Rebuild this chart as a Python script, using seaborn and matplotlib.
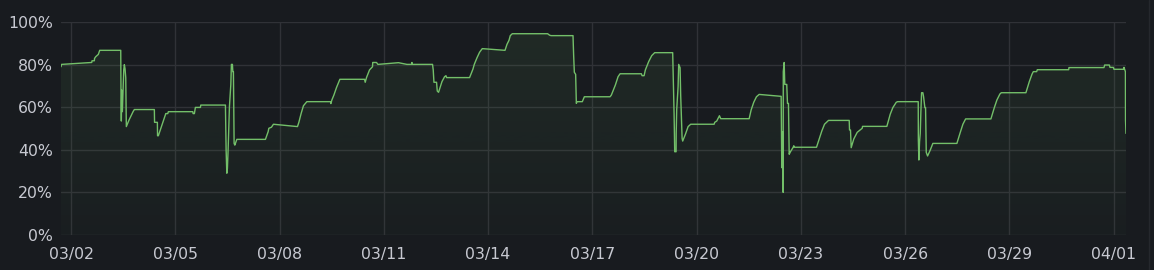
import numpy as np
import pandas as pd
import matplotlib
matplotlib.use("Agg")
import matplotlib.pyplot as plt
import matplotlib.dates as mdates
from matplotlib.lines import Line2D
from matplotlib.ticker import FuncFormatter
import seaborn as sns

# ---- data: days since 2024-03-02 00:00 and usage in percent ----
start_date = "2024-03-02"
days = [
    -0.288, -0.273, 0.596, 0.605, 0.671, 0.677, 0.711, 0.786, 0.826, 1.431,
    1.440, 1.448, 1.460, 1.477, 1.517, 1.535, 1.555, 1.575, 1.592, 1.670,
    1.785, 1.822, 2.398, 2.404, 2.485, 2.490, 2.513, 2.649, 2.727, 2.784,
    2.801, 3.504, 3.513, 3.550, 3.579, 3.723, 3.734, 4.443, 4.463, 4.483,
    4.500, 4.520, 4.540, 4.558, 4.598, 4.615, 4.644, 4.656, 4.673, 4.693,
    4.713, 4.771, 5.594, 5.672, 5.692, 5.767, 5.824, 6.516, 6.556, 6.622,
    6.688, 6.786, 7.466, 7.477, 7.506, 7.564, 7.638, 7.736, 8.445, 8.465,
    8.502, 8.589, 8.675, 8.681, 8.790, 8.830, 9.423, 9.665, 9.805, 9.809,
    9.813, 10.402, 10.422, 10.443, 10.518, 10.538, 10.575, 10.673, 10.748, 10.788,
    10.806, 11.468, 11.565, 11.603, 11.681, 11.756, 11.833, 12.487, 12.544, 12.602,
    12.639, 12.697, 13.713, 13.771, 13.811, 14.444, 14.462, 14.482, 14.520, 14.540,
    14.559, 14.712, 14.770, 15.510, 15.547, 15.662, 15.740, 15.798, 16.411, 16.431,
    16.489, 16.526, 16.621, 16.708, 16.794, 17.312, 17.332, 17.352, 17.370, 17.410,
    17.413, 17.427, 17.467, 17.485, 17.525, 17.542, 17.583, 17.600, 17.678, 17.756,
    17.830, 18.504, 18.521, 18.579, 18.657, 18.694, 19.512, 19.569, 19.644, 19.722,
    19.800, 20.433, 20.451, 20.471, 20.491, 20.494, 20.520, 20.537, 20.594, 20.615,
    20.643, 20.664, 20.701, 20.779, 20.796, 20.816, 21.450, 21.527, 21.602, 21.680,
    21.795, 22.391, 22.400, 22.428, 22.448, 22.523, 22.621, 22.765, 22.774, 23.474,
    23.571, 23.646, 23.744, 23.782, 24.377, 24.380, 24.395, 24.415, 24.435, 24.453,
    24.473, 24.510, 24.530, 24.568, 24.588, 24.608, 24.646, 24.723, 24.798, 25.489,
    25.587, 25.662, 25.740, 26.468, 26.566, 26.641, 26.727, 26.767, 27.475, 27.573,
    27.648, 27.688, 27.784, 27.803, 28.705, 28.714, 29.721, 29.741, 29.876, 29.894,
    29.991, 30.009, 30.280, 30.297, 30.338, 30.341, 30.355,
]
usage = [
    79.0, 80.1, 81.0, 81.8, 81.8, 82.9, 83.7, 84.8, 86.7, 86.7,
    61.8, 53.5, 68.0, 57.9, 77.5, 80.0, 78.0, 73.9, 50.9, 54.0,
    57.9, 58.9, 58.9, 52.9, 52.9, 46.6, 46.6, 53.2, 57.0, 57.0,
    57.9, 57.9, 57.0, 57.0, 59.9, 59.9, 61.0, 61.0, 39.9, 29.0,
    31.3, 39.9, 50.0, 60.2, 70.7, 80.1, 80.1, 76.7, 76.7, 43.0,
    42.2, 44.9, 44.9, 48.5, 50.1, 50.6, 52.0, 50.9, 52.9, 57.1,
    60.7, 62.6, 62.6, 61.7, 63.4, 65.7, 69.2, 73.1, 73.1, 71.7,
    73.9, 77.5, 79.0, 81.0, 81.0, 80.1, 80.9, 80.1, 80.1, 81.0,
    80.1, 80.1, 77.5, 71.7, 71.7, 67.6, 67.0, 72.0, 74.3, 74.8,
    73.9, 73.9, 77.9, 80.1, 83.2, 85.8, 87.5, 86.7, 89.5, 91.4,
    93.6, 94.5, 94.5, 93.8, 93.6, 93.6, 84.5, 76.4, 75.4, 61.8,
    62.6, 62.6, 64.9, 64.9, 65.7, 70.4, 74.3, 75.7, 75.7, 74.8,
    74.8, 77.5, 81.4, 84.2, 85.6, 85.6, 72.0, 57.1, 39.1, 39.1,
    47.7, 58.7, 69.6, 80.1, 78.5, 65.7, 45.4, 44.1, 47.3, 50.9,
    52.0, 52.0, 52.9, 53.5, 56.0, 54.6, 54.6, 58.7, 62.3, 64.9,
    66.0, 65.1, 31.6, 48.5, 20.0, 76.7, 81.0, 70.7, 70.7, 61.8,
    61.8, 37.9, 39.1, 41.2, 41.9, 41.2, 41.2, 45.1, 48.8, 52.0,
    53.8, 53.8, 49.3, 49.3, 41.0, 45.1, 48.2, 50.1, 51.0, 51.0,
    56.7, 59.8, 62.3, 62.6, 62.6, 45.0, 35.2, 43.8, 47.7, 57.9,
    66.8, 66.8, 65.0, 59.8, 59.8, 38.8, 37.1, 39.9, 43.0, 43.0,
    48.2, 52.0, 54.5, 54.5, 59.8, 63.4, 66.2, 66.8, 66.8, 72.0,
    75.4, 76.7, 76.7, 77.6, 77.6, 78.6, 78.6, 79.8, 79.8, 78.7,
    78.7, 77.8, 77.8, 78.7, 76.7, 54.0, 47.7,
]
y_ticks = [0, 20, 40, 60, 80, 100]
x_tick_count = 11

# ---- style ----
BG = "#181b1f"
GRID = "#303237"
TXT = "#c7c9d1"
LINE = "#73bf69"

sns.set_theme(style="dark")
plt.rcParams["font.family"] = ["DejaVu Sans"]

times = pd.Timestamp(start_date) + pd.to_timedelta(days, unit="D")
df = pd.DataFrame({"time": times, "usage": usage})

W, H = 1154, 270
fig = plt.figure(figsize=(W / 100, H / 100), dpi=100, facecolor=BG)
ax = fig.add_axes([61 / W, 1 - 235 / H, 1065 / W, 213 / H])
ax.set_facecolor(BG)

sns.lineplot(data=df, x="time", y="usage", ax=ax, color=LINE, linewidth=1.0,
             estimator=None, sort=False, zorder=3)

# gradient fill under the curve
poly = ax.fill_between(df["time"], df["usage"], 0, facecolor="none", edgecolor="none")
clip_path = poly.get_paths()[0]
x0, x1 = mdates.date2num(df["time"].iloc[0]), mdates.date2num(df["time"].iloc[-1])
rgba = np.zeros((256, 1, 4))
rgba[..., 0], rgba[..., 1], rgba[..., 2] = 0x73 / 255, 0xbf / 255, 0x69 / 255
rgba[:, 0, 3] = np.linspace(0.02, 0.10, 256)
im = ax.imshow(rgba, extent=[x0, x1, 0, 100], origin="lower", aspect="auto", zorder=2)
im.set_clip_path(clip_path, transform=ax.transData)

ax.set_xlim(df["time"].iloc[0], df["time"].iloc[-1])
ax.set_ylim(0, 100)
ax.set_yticks(y_ticks)
ax.yaxis.set_major_formatter(FuncFormatter(lambda v, p: f"{v:.0f}%"))
ax.set_xticks(pd.date_range(start_date, periods=x_tick_count, freq="3D"))
ax.xaxis.set_major_formatter(mdates.DateFormatter("%m/%d"))

ax.grid(True, color=GRID, linewidth=1.0)
ax.set_axisbelow(True)
for s in ax.spines.values():
    s.set_visible(False)
ax.set_xlabel("")
ax.set_ylabel("")
ax.tick_params(axis="x", length=5, width=1, color=GRID, pad=4, labelcolor=TXT, labelsize=11.3)
ax.tick_params(axis="y", length=0, pad=6, labelcolor=TXT, labelsize=11.3)

fig.add_artist(Line2D([1148.5 / W] * 2, [0, 1], color="#25282d", linewidth=1.0,
                      transform=fig.transFigure))

fig.savefig("out.png", dpi=100, facecolor=BG)
